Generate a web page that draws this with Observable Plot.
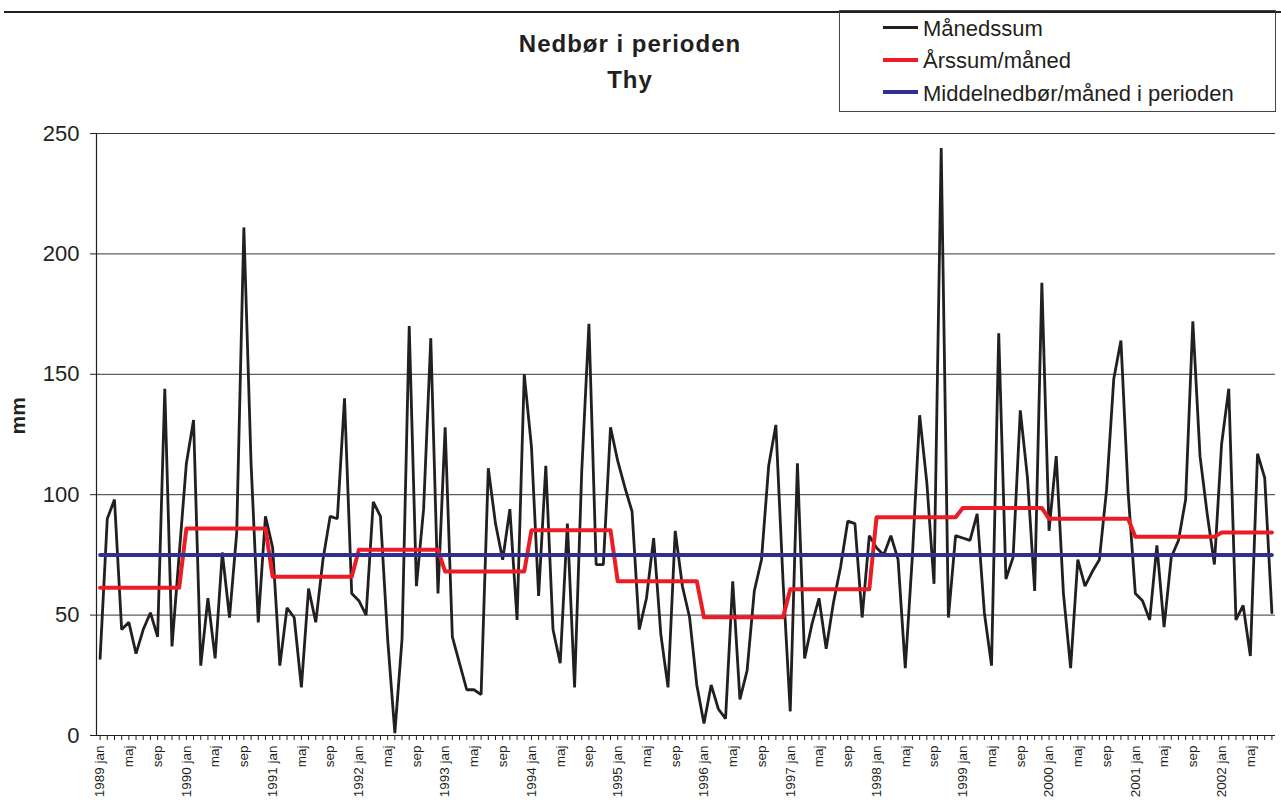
<!DOCTYPE html>
<html>
<head>
<meta charset="utf-8">
<script src="https://cdn.jsdelivr.net/npm/d3@7"></script>
<script src="https://cdn.jsdelivr.net/npm/@observablehq/plot@0.6"></script>
<style>
  body { margin: 0; background: #fff; font-family: "Liberation Sans", Arial, sans-serif; }
  #wrap { position: relative; width: 1281px; height: 805px; overflow: hidden; }
  #chart { position: absolute; left: 0; top: 0; }
  .topline { position: absolute; left: 4px; top: 11px; width: 1277px; height: 2px; background: #231f20; }
  .title { position: absolute; left: 430px; width: 400px; text-align: center; font-weight: bold; font-size: 24px; letter-spacing: 1px; color: #231f20; line-height: 1; white-space: nowrap; }
  .legend { position: absolute; left: 839px; top: 10px; width: 437px; height: 102px; border: 1px solid #444; box-sizing: border-box; }
  .lg-sw { position: absolute; left: 883px; width: 35px; }
  .lg-tx { position: absolute; left: 923px; font-size: 22px; color: #231f20; white-space: nowrap; line-height: 1; }
</style>
</head>
<body>
<div id="wrap">
  <div id="chart"></div>
  <div class="topline"></div>
  <div class="legend"></div>
  <div class="title" style="top:32px">Nedbør i perioden</div>
  <div class="title" style="top:68px">Thy</div>
</div>
<script>
// ---- data ----
const startYear = 1989;
const monthNames = ["jan","feb","mar","apr","maj","jun","jul","aug","sep","okt","nov","dec"];
const monthlySum = [
  // 1989
  32, 90, 98, 44, 47, 34, 44, 51, 41, 144, 37, 75,
  // 1990
  113, 131, 29, 57, 32, 76, 49, 84, 211, 113, 47, 91,
  // 1991
  78, 29, 53, 49, 20, 61, 47, 73, 91, 90, 140, 59,
  // 1992
  56, 50, 97, 91, 40, 1, 40, 170, 62, 94, 165, 59,
  // 1993
  128, 41, 30, 19, 19, 17, 111, 88, 73, 94, 48, 150,
  // 1994
  120, 58, 112, 44, 30, 88, 20, 110, 171, 71, 71, 128,
  // 1995
  114, 103, 93, 44, 57, 82, 42, 20, 85, 62, 49, 21,
  // 1996
  5, 21, 11, 7, 64, 15, 27, 60, 73, 112, 129, 64,
  // 1997
  10, 113, 32, 46, 57, 36, 55, 70, 89, 88, 49, 83,
  // 1998
  78, 75, 83, 73, 28, 75, 133, 105, 63, 244, 49, 83,
  // 1999
  82, 81, 92, 51, 29, 167, 65, 74, 135, 107, 60, 188,
  // 2000
  85, 116, 59, 28, 73, 62, 68, 73, 102, 148, 164, 101,
  // 2001
  59, 56, 48, 79, 45, 74, 81, 98, 172, 116, 92, 71,
  // 2002
  121, 144, 48, 54, 33, 117, 107, 51
];
const annualMean = [61.4, 86.0, 65.9, 77.1, 68.1, 85.2, 64.1, 49.1, 60.7, 90.6, 94.5, 90.0, 82.5, 84.3];
const periodMean = 75;
const yTicks = [0, 50, 100, 150, 200, 250];

const seriesNames = ["Månedssum", "Årssum/måned", "Middelnedbør/måned i perioden"];
const seriesColors = ["#231f20", "#ed1c24", "#2e3192"];

// ---- table ----
const rows = monthlySum.map((v, i) => ({
  i,
  month: v,
  annual: annualMean[Math.floor(i / 12)],
  mean: periodMean
}));
const n = rows.length;
const tickIdx = d3.range(n);
const fmt = i => i % 12 === 0 ? `${startYear + i / 12} ${monthNames[0]}` : (i % 4 === 0 ? monthNames[i % 12] : "");

const chart = Plot.plot({
  width: 1281,
  height: 805,
  marginTop: 133,
  marginLeft: 96,
  marginRight: 6,
  marginBottom: 70,
  style: { fontFamily: "'Liberation Sans', Arial, sans-serif", color: "#231f20", background: "transparent" },
  x: { domain: [-0.5, n - 0.5], axis: null },
  y: { domain: [0, 250], axis: null },
  marks: [
    Plot.gridY(yTicks, { stroke: "#231f20", strokeOpacity: 0.9, strokeWidth: 1 }),
    Plot.axisY(yTicks, { tickSize: 6, tickPadding: 11, fontSize: 22, label: null, stroke: "#231f20" }),
    Plot.axisX(tickIdx, { tickSize: 5, tickPadding: 5, tickRotate: -90, fontSize: 13.5, tickFormat: fmt, label: null, stroke: "#231f20" }),
    Plot.ruleY([0], { stroke: "#231f20", strokeWidth: 1.2 }),
    Plot.ruleX([-0.5], { stroke: "#231f20", strokeWidth: 1.2 }),
    Plot.line(rows, { x: "i", y: "month", stroke: seriesColors[0], strokeWidth: 2.8, strokeLinejoin: "miter" }),
    Plot.line(rows, { x: "i", y: "annual", stroke: seriesColors[1], strokeWidth: 4 }),
    Plot.line(rows, { x: "i", y: "mean", stroke: seriesColors[2], strokeWidth: 4 }),
    Plot.text(["mm"], { frameAnchor: "left", dx: -78, rotate: -90, fontSize: 21, fontWeight: "bold", fill: "#231f20" })
  ]
});
document.getElementById("chart").appendChild(chart);

// ---- legend ----
const wrap = document.getElementById("wrap");
const swatchY = [27, 59.5, 92];
const textTop = [17.5, 50, 83];
const swatchH = [3, 4, 4];
seriesNames.forEach((name, k) => {
  const sw = document.createElement("div");
  sw.className = "lg-sw";
  sw.style.background = seriesColors[k];
  sw.style.height = swatchH[k] + "px";
  sw.style.top = (swatchY[k] - swatchH[k] / 2) + "px";
  const tx = document.createElement("div");
  tx.className = "lg-tx";
  tx.style.top = textTop[k] + "px";
  tx.textContent = name;
  wrap.appendChild(sw);
  wrap.appendChild(tx);
});
</script>
</body>
</html>
